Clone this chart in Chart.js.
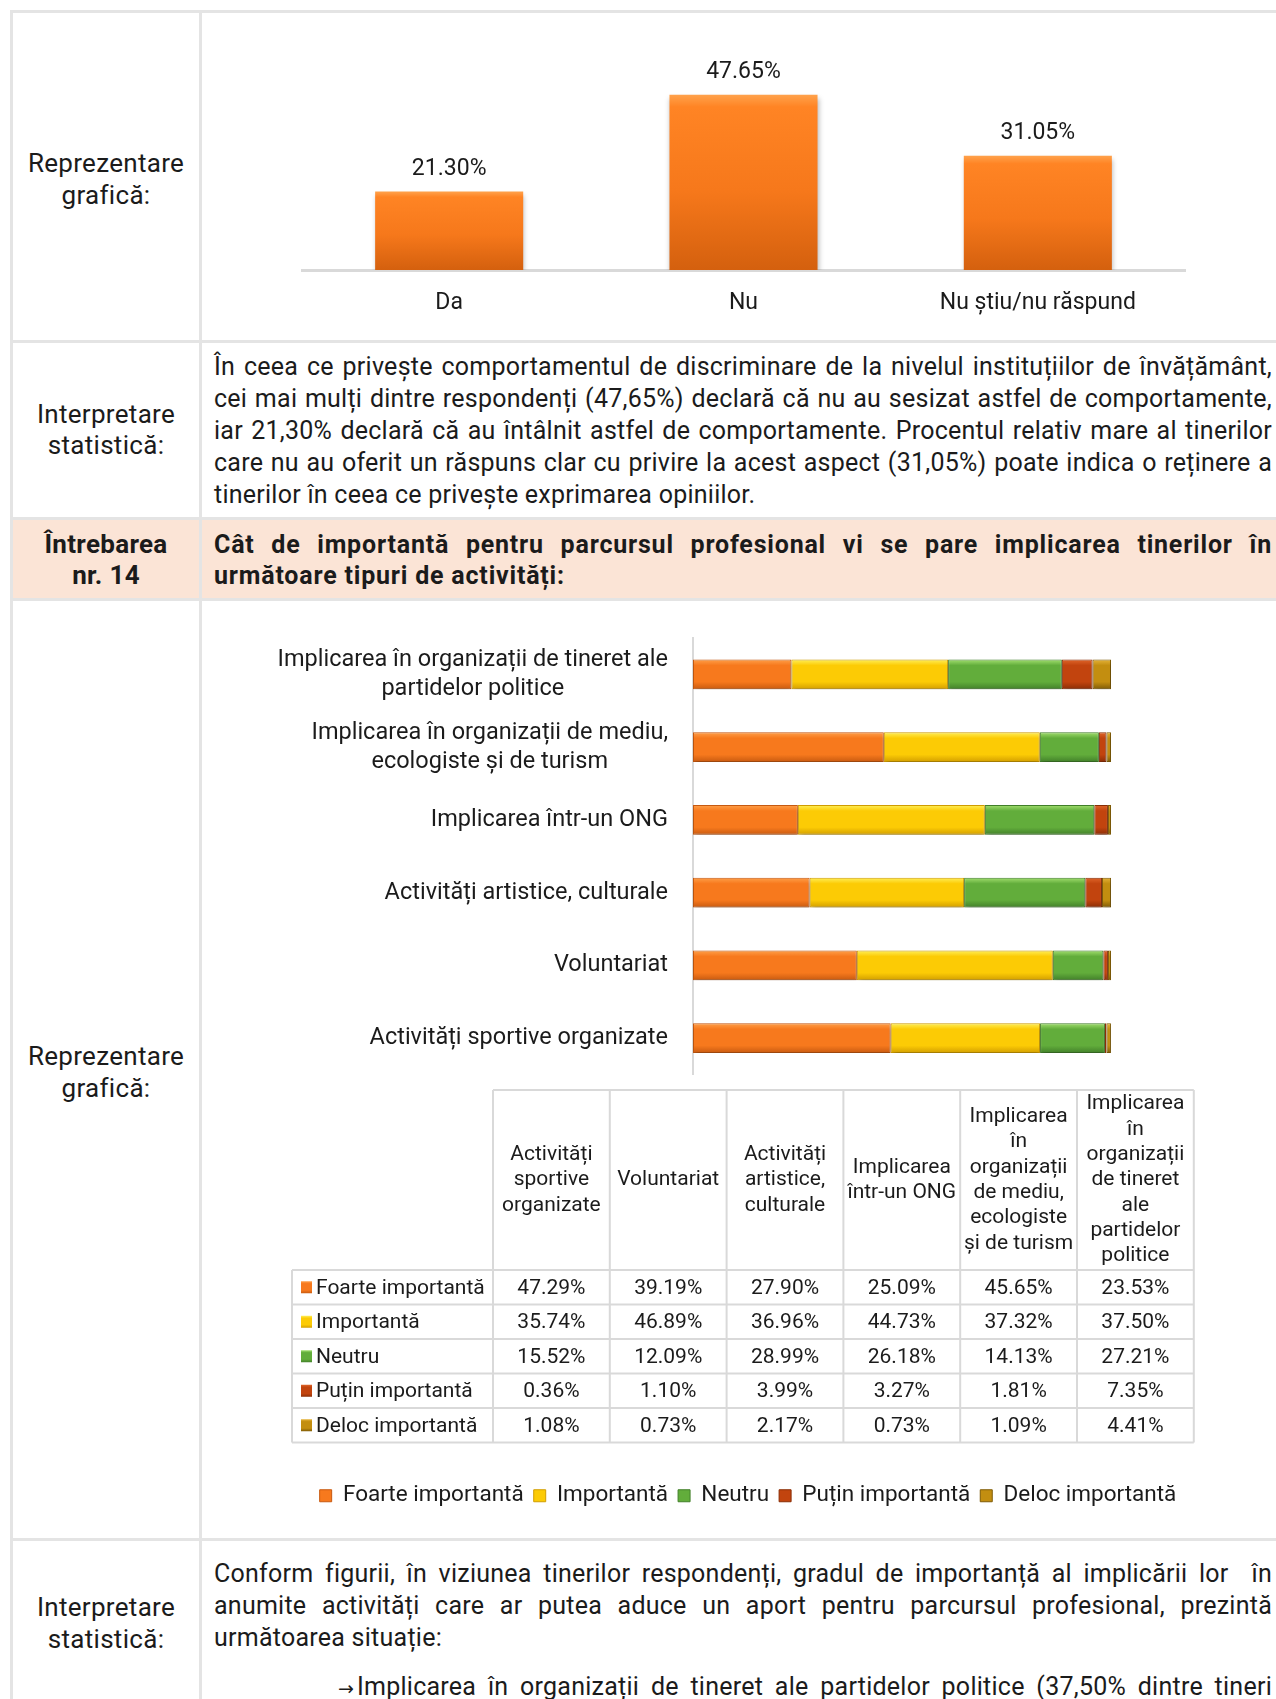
<!DOCTYPE html>
<html lang="ro">
<head>
<meta charset="utf-8">
<title>Întrebarea nr. 14</title>
<script src="https://cdn.jsdelivr.net/npm/chart.js@4.4.1/dist/chart.umd.min.js"></script>
<style>
  html, body { margin: 0; padding: 0; background: #fff; overflow: hidden; }
  body { width: 1276px; height: 1699px; position: relative; font-family: Roboto, "Noto Sans", sans-serif; color: #1b1b1b; }
  .hl { position: absolute; left: 10px; width: 1266px; height: 3px; background: #e4e4e4; }
  .vl { position: absolute; top: 10px; width: 3px; height: 1689px; background: #e4e4e4; }
  .pink { position: absolute; left: 13px; top: 520px; width: 1263px; height: 78px; background: #fbe4d6; }
  .lbl { position: absolute; left: 12px; width: 188px; text-align: center; font-size: 26px; letter-spacing: 0.3px; line-height: 32px; }
  .txt { position: absolute; left: 214px; width: 1058px; font-size: 25px; letter-spacing: 0.25px; line-height: 32px; }
  .txt div { white-space: nowrap; text-align: justify; text-align-last: justify; }
  .txt div.end { text-align-last: left; }
  .bold { font-weight: 700; }
  .txt.bold { letter-spacing: 0.8px; }
  .arrow { display: inline-block; width: 19px; font-family: "DejaVu Sans", sans-serif; font-size: 19px; letter-spacing: 0; }
  canvas { position: absolute; }
</style>
</head>
<body>

<div class="pink"></div>
<div class="hl" style="top:10px"></div>
<div class="hl" style="top:340px"></div>
<div class="hl" style="top:517px"></div>
<div class="hl" style="top:598px"></div>
<div class="hl" style="top:1538px"></div>
<div class="vl" style="left:10px"></div>
<div class="vl" style="left:199px"></div>

<div class="lbl" style="top:147px">Reprezentare<br>grafică:</div>
<canvas id="chartRaspuns" width="1075" height="326" style="left:201px;top:13px"></canvas>

<div class="lbl" style="top:399px;line-height:31px">Interpretare<br>statistică:</div>
<div class="txt" style="top:351px">
  <div>În ceea ce privește comportamentul de discriminare de la nivelul instituțiilor de învățământ,</div>
  <div>cei mai mulți dintre respondenți (47,65%) declară că nu au sesizat astfel de comportamente,</div>
  <div>iar 21,30% declară că au întâlnit astfel de comportamente. Procentul relativ mare al tinerilor</div>
  <div>care nu au oferit un răspuns clar cu privire la acest aspect (31,05%) poate indica o reținere a</div>
  <div class="end">tinerilor în ceea ce privește exprimarea opiniilor.</div>
</div>

<div class="lbl bold" style="top:529px;line-height:31px">Întrebarea<br>nr. 14</div>
<div class="txt bold" style="top:529px;line-height:31px">
  <div>Cât de importantă pentru parcursul profesional vi se pare implicarea tinerilor în</div>
  <div class="end">următoare tipuri de activități:</div>
</div>

<div class="lbl" style="top:1040px">Reprezentare<br>grafică:</div>
<canvas id="chartActivitati" width="1075" height="937" style="left:201px;top:601px"></canvas>

<div class="lbl" style="top:1591px">Interpretare<br>statistică:</div>
<div class="txt" style="top:1558px">
  <div>Conform figurii, în viziunea tinerilor respondenți, gradul de importanță al implicării lor&nbsp; în</div>
  <div>anumite activități care ar putea aduce un aport pentru parcursul profesional, prezintă</div>
  <div class="end">următoarea situație:</div>
</div>
<div class="txt" style="top:1671px;left:338px;width:934px">
  <div><span class="arrow">→</span>Implicarea în organizații de tineret ale partidelor politice (37,50% dintre tineri</div>
</div>

<script>
// Intrebarea 13 - comportament de discriminare
const answerLabels = ['Da', 'Nu', 'Nu știu/nu răspund'];
const answerValues = [21.30, 47.65, 31.05];

// Intrebarea 14 - categorii in ordinea tabelului de date
const activities = [
  'Activități sportive organizate',
  'Voluntariat',
  'Activități artistice, culturale',
  'Implicarea într-un ONG',
  'Implicarea în organizații de mediu, ecologiste și de turism',
  'Implicarea în organizații de tineret ale partidelor politice'
];
// etichetele axei (cum sunt rupte pe randuri)
const axisLabels = [
  ['Activități sportive organizate'],
  ['Voluntariat'],
  ['Activități artistice, culturale'],
  ['Implicarea într-un ONG'],
  ['Implicarea în organizații de mediu,', 'ecologiste și de turism'],
  ['Implicarea în organizații de tineret ale', 'partidelor politice']
];
// antetul tabelului de date
const headerLabels = [
  ['Activități', 'sportive', 'organizate'],
  ['Voluntariat'],
  ['Activități', 'artistice,', 'culturale'],
  ['Implicarea', 'într-un ONG'],
  ['Implicarea', 'în', 'organizații', 'de mediu,', 'ecologiste', 'și de turism'],
  ['Implicarea', 'în', 'organizații', 'de tineret', 'ale', 'partidelor', 'politice']
];
const levels = ['Foarte importantă', 'Importantă', 'Neutru', 'Puțin importantă', 'Deloc importantă'];
const foarteImportanta = [47.29, 39.19, 27.90, 25.09, 45.65, 23.53];
const importanta = [35.74, 46.89, 36.96, 44.73, 37.32, 37.50];
const neutru = [15.52, 12.09, 28.99, 26.18, 14.13, 27.21];
const putinImportanta = [0.36, 1.10, 3.99, 3.27, 1.81, 7.35];
const delocImportanta = [1.08, 0.73, 2.17, 0.73, 1.09, 4.41];
const seriesValues = [foarteImportanta, importanta, neutru, putinImportanta, delocImportanta];

// culori: [deschis, baza, inchis]
const palette = [
  ['#ffa04a', '#f7791d', '#c85a10'],
  ['#fff05a', '#fccb05', '#d29e00'],
  ['#a4e070', '#62ad3b', '#42802a'],
  ['#e0662a', '#c2440e', '#8a2e06'],
  ['#e6b43a', '#c38e10', '#7f5b06']
];

Chart.defaults.font.family = 'Roboto, "Noto Sans", sans-serif';
Chart.defaults.color = '#1b1b1b';

function bevel(ctx, y0, y1, c) {
  const g = ctx.createLinearGradient(0, y0, 0, y1);
  g.addColorStop(0, c[0]);
  g.addColorStop(0.2, c[1]);
  g.addColorStop(0.75, c[1]);
  g.addColorStop(1, c[2]);
  return g;
}

// umbra sub bare
const barShadow = {
  id: 'barShadow',
  beforeDatasetsDraw(chart) {
    const ctx = chart.ctx;
    ctx.save();
    ctx.shadowColor = 'rgba(0,0,0,0.28)';
    ctx.shadowBlur = 5;
    ctx.shadowOffsetX = 1;
    ctx.shadowOffsetY = 3;
  },
  afterDatasetsDraw(chart) {
    chart.ctx.restore();
  }
};

// ---------- grafic 1 ----------
const valueLabels = {
  id: 'valueLabels',
  afterDraw(chart) {
    const ctx = chart.ctx;
    const meta = chart.getDatasetMeta(0);
    ctx.save();
    ctx.font = '23px Roboto';
    ctx.fillStyle = '#1b1b1b';
    ctx.textAlign = 'center';
    ctx.textBaseline = 'middle';
    meta.data.forEach((bar, i) => {
      ctx.fillText(answerValues[i].toFixed(2) + '%', bar.x, bar.y - 22);
    });
    ctx.restore();
  }
};

new Chart(document.getElementById('chartRaspuns'), {
  type: 'bar',
  data: {
    labels: answerLabels,
    datasets: [{
      data: answerValues,
      backgroundColor: (c) => {
        const ch = c.chart;
        const ys = ch.scales.y;
        if (!ch.chartArea || !ys || c.dataIndex === undefined) return palette[0][1];
        const top = ys.getPixelForValue(answerValues[c.dataIndex]);
        const bottom = ys.getPixelForValue(0);
        const g = ch.ctx.createLinearGradient(0, top, 0, bottom);
        g.addColorStop(0, '#ffa24c');
        g.addColorStop(0.07, '#ff8424');
        g.addColorStop(0.55, '#f6781b');
        g.addColorStop(1, '#d4600e');
        return g;
      },
      borderWidth: 0,
      barPercentage: 0.503,
      categoryPercentage: 1
    }]
  },
  options: {
    responsive: false,
    animation: false,
    layout: { padding: { left: 101, right: 91, top: 73, bottom: 0 } },
    plugins: { legend: { display: false }, tooltip: { enabled: false } },
    scales: {
      y: { display: false, min: 0, max: 50 },
      x: {
        grid: { display: false, drawTicks: false },
        border: { color: '#d9d9d9', width: 3 },
        ticks: { font: { size: 23 }, color: '#1b1b1b', padding: 19 },
        afterFit: (s) => { s.height = 69; }
      }
    }
  },
  plugins: [barShadow, valueLabels]
});

// ---------- grafic 2 ----------
const barPct = 0.41;

const axisAndTable = {
  id: 'axisAndTable',
  afterDraw(chart) {
    const ctx = chart.ctx;
    const ys = chart.scales.y;
    const area = chart.chartArea;
    ctx.save();

    // etichete categorii
    ctx.font = '23.5px Roboto';
    ctx.fillStyle = '#1b1b1b';
    ctx.textAlign = 'center';
    ctx.textBaseline = 'middle';
    axisLabels.forEach((lines, i) => {
      const yc = ys.getPixelForValue(i);
      const w = Math.max(...lines.map((l) => ctx.measureText(l).width));
      const xc = area.left - 25 - w / 2;
      const lh = 29;
      lines.forEach((l, k) => {
        ctx.fillText(l, xc, yc + (k - (lines.length - 1) / 2) * lh);
      });
    });

    // tabel de date
    const tableX = 91, firstColX = 292, colW = 116.8;
    const headTop = 489, headBottom = 669, rowH = 34.5;
    const right = firstColX + colW * activities.length;
    const bottom = headBottom + rowH * levels.length;

    ctx.strokeStyle = '#d9d9d9';
    ctx.lineWidth = 2;
    const line = (x0, y0, x1, y1) => { ctx.beginPath(); ctx.moveTo(x0, y0); ctx.lineTo(x1, y1); ctx.stroke(); };
    line(firstColX, headTop, right, headTop);
    for (let j = 0; j <= activities.length; j++) {
      line(firstColX + j * colW, headTop, firstColX + j * colW, bottom);
    }
    line(tableX, headBottom, tableX, bottom);
    for (let r = 0; r <= levels.length; r++) {
      line(tableX, headBottom + r * rowH, right, headBottom + r * rowH);
    }

    ctx.font = '21px Roboto';
    ctx.fillStyle = '#1b1b1b';
    const headMid = (headTop + headBottom) / 2;
    headerLabels.forEach((lines, j) => {
      const xc = firstColX + (j + 0.5) * colW;
      lines.forEach((l, k) => {
        ctx.fillText(l, xc, headMid + (k - (lines.length - 1) / 2) * 25.3);
      });
    });

    levels.forEach((lev, r) => {
      const yc = headBottom + (r + 0.5) * rowH;
      ctx.fillStyle = bevel(ctx, yc - 6, yc + 6, palette[r]);
      ctx.fillRect(tableX + 9, yc - 6, 11, 12);
      ctx.fillStyle = '#1b1b1b';
      ctx.textAlign = 'left';
      ctx.fillText(lev, tableX + 24, yc + 1);
      ctx.textAlign = 'center';
      seriesValues[r].forEach((v, j) => {
        ctx.fillText(v.toFixed(2) + '%', firstColX + (j + 0.5) * colW, yc + 1);
      });
    });
    ctx.restore();
  }
};

new Chart(document.getElementById('chartActivitati'), {
  type: 'bar',
  data: {
    labels: activities,
    datasets: levels.map((lev, i) => ({
      label: lev,
      data: seriesValues[i],
      backgroundColor: (c) => {
        const ch = c.chart;
        const ys = ch.scales.y;
        if (!ch.chartArea || !ys || c.dataIndex === undefined) return palette[i][1];
        const yc = ys.getPixelForValue(c.dataIndex);
        const half = Math.abs(ys.getPixelForValue(1) - ys.getPixelForValue(0)) * barPct / 2;
        return bevel(ch.ctx, yc - half, yc + half, palette[i]);
      },
      borderColor: palette[i][2],
      borderWidth: 1,
      borderSkipped: false,
      barPercentage: barPct,
      categoryPercentage: 1
    }))
  },
  options: {
    indexAxis: 'y',
    responsive: false,
    animation: false,
    layout: { padding: { left: 19, right: 0, top: 37, bottom: 21 } },
    plugins: {
      tooltip: { enabled: false },
      legend: {
        position: 'bottom',
        labels: {
          font: { size: 22.5 },
          color: '#1b1b1b',
          boxWidth: 12,
          boxHeight: 12,
          padding: 10,
          generateLabels: () => levels.map((lev, i) => ({
            text: lev,
            fillStyle: palette[i][1],
            strokeStyle: palette[i][2],
            lineWidth: 1,
            fontColor: '#1b1b1b',
            datasetIndex: i,
            hidden: false
          }))
        }
      }
    },
    scales: {
      x: {
        stacked: true,
        min: 0,
        max: 100,
        grid: { display: false, drawTicks: false },
        border: { display: false },
        ticks: { display: false },
        afterFit: (s) => { s.height = 400; }
      },
      y: {
        stacked: true,
        reverse: true,
        grid: { display: false, drawTicks: false },
        border: { color: '#d9d9d9', width: 2 },
        ticks: { display: false },
        afterFit: (s) => { s.width = 473; }
      },
      yr: {
        type: 'linear',
        position: 'right',
        grid: { display: false, drawTicks: false },
        border: { display: false },
        ticks: { display: false },
        afterFit: (s) => { s.width = 165; }
      }
    }
  },
  plugins: [barShadow, axisAndTable]
});
</script>
</body>
</html>
